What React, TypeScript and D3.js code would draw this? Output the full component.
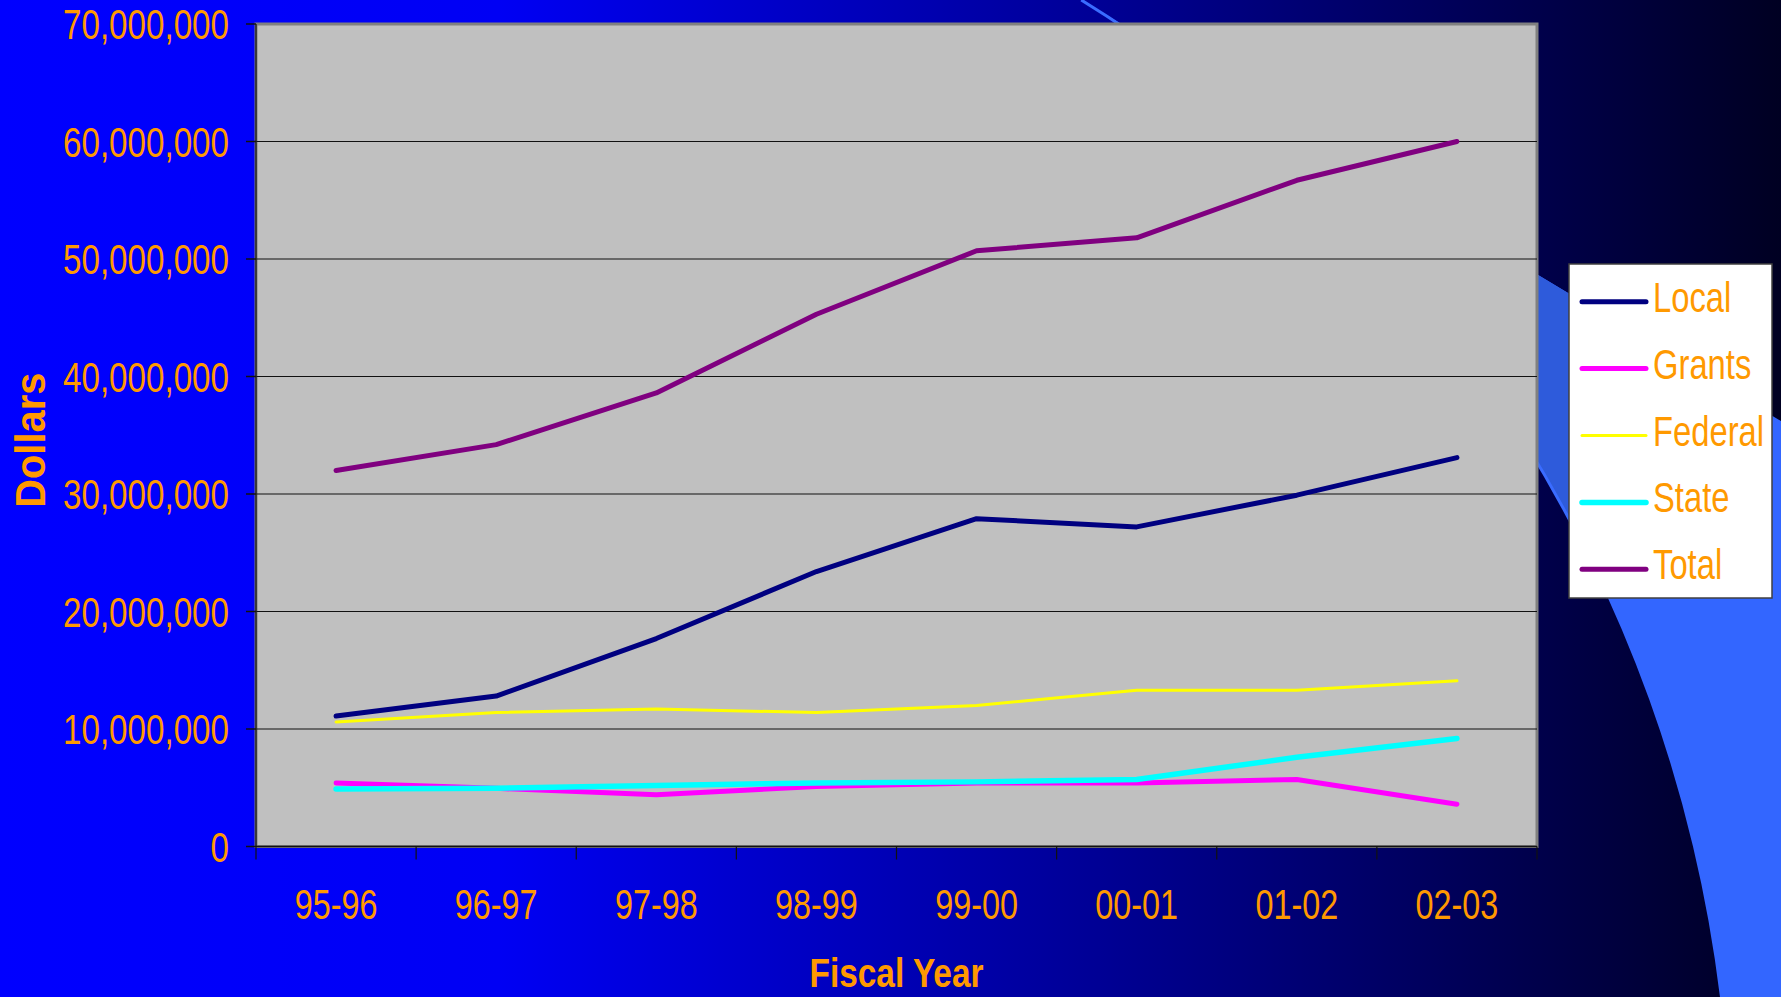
import React from "react";
import * as d3 from "d3";

// Fiscal years on the category axis
const years = ["95-96", "96-97", "97-98", "98-99", "99-00", "00-01", "01-02", "02-03"];

// Revenue by source, in dollars
const local = [11.1e6, 12.8e6, 17.7e6, 23.4e6, 27.9e6, 27.2e6, 29.9e6, 33.1e6];
const grants = [5.4e6, 4.95e6, 4.4e6, 5.1e6, 5.4e6, 5.4e6, 5.7e6, 3.6e6];
const federal = [10.6e6, 11.4e6, 11.7e6, 11.4e6, 12.0e6, 13.3e6, 13.3e6, 14.1e6];
const state = [4.9e6, 4.95e6, 5.2e6, 5.4e6, 5.5e6, 5.7e6, 7.6e6, 9.2e6];
const total = [32.0e6, 34.2e6, 38.6e6, 45.3e6, 50.7e6, 51.8e6, 56.7e6, 60.0e6];

// Value axis ticks
const yTicks = [0, 10e6, 20e6, 30e6, 40e6, 50e6, 60e6, 70e6];

const seriesNames = ["Local", "Grants", "Federal", "State", "Total"];
const seriesValues = [local, grants, federal, state, total];
const seriesColors = ["#000080", "#FF00FF", "#FFFF00", "#00FFFF", "#800080"];
const seriesWidths = [5, 5, 3, 5.5, 5];

const W = 1781;
const H = 997;
const plot = { left: 256, right: 1537, top: 24, bottom: 846.5 };
const ORANGE = "#FF9900";
const FONT = "'Liberation Sans', Arial, Helvetica, sans-serif";

export default function App() {
  const x = d3.scaleBand<string>().domain(years).range([plot.left, plot.right]);
  const cx = (d: string) => (x(d) as number) + x.bandwidth() / 2;
  const y = d3.scaleLinear().domain([0, 70e6]).range([plot.bottom, plot.top]);
  const fmt = d3.format(",");

  const line = d3
    .line<number>()
    .x((_, i) => cx(years[i]))
    .y((v) => y(v));

  // Decorative sweeping shapes on the right of the slide
  const circ = { cx: 365, cy: 1162, r: 1365 };
  const yAt = (yy: number) => circ.cx + Math.sqrt(circ.r * circ.r - (yy - circ.cy) ** 2);
  const xTop = yAt(0);
  const xBot = yAt(H);
  const xEdgeEnd = yAt(598);
  const sweepPath = `M${xTop},0 L${W},421 L${W},${H} L${xBot},${H} A${circ.r},${circ.r} 0 0 0 ${xTop},0 Z`;
  const edgePath = `M${xTop},0 A${circ.r},${circ.r} 0 0 1 ${xEdgeEnd},598`;

  const legend = { x: 1569, y: 264, w: 203, h: 334 };
  const rowY = (i: number) => legend.y + 37.7 + i * 66.9;

  const boundaries = d3.range(years.length + 1).map((i) => plot.left + i * x.bandwidth());

  return (
    <svg
      width={W}
      height={H}
      viewBox={`0 0 ${W} ${H}`}
      style={{ position: "absolute", left: 0, top: 0, display: "block" }}
    >
      <defs>
        <linearGradient id="bg" x1="0" y1="0" x2="1" y2="0">
          <stop offset="0" stopColor="#0000FF" />
          <stop offset="0.28" stopColor="#0000F4" />
          <stop offset="0.62" stopColor="#000094" />
          <stop offset="0.84" stopColor="#000052" />
          <stop offset="1" stopColor="#000022" />
        </linearGradient>
        <clipPath id="bandClip">
          <polygon points="1000,0 1772,0 1772,420 1600,598 1000,598" />
        </clipPath>
      </defs>

      <rect x={0} y={0} width={W} height={H} fill="url(#bg)" />
      <path d={sweepPath} fill="#3366FF" />
      <path d={sweepPath} fill="#2E5BDB" clipPath="url(#bandClip)" />
      <path d={edgePath} fill="none" stroke="#3A6CFF" strokeWidth={3} />

      {/* plot area */}
      <rect
        x={plot.left}
        y={plot.top}
        width={plot.right - plot.left}
        height={plot.bottom - plot.top}
        fill="#C0C0C0"
        stroke="#808080"
        strokeWidth={3}
      />
      {yTicks
        .filter((t) => t > 0 && t < 70e6)
        .map((t) => (
          <line key={t} x1={plot.left} x2={plot.right} y1={y(t)} y2={y(t)} stroke="#111" strokeWidth={1.2} />
        ))}
      <line x1={plot.left} x2={plot.left} y1={plot.top} y2={plot.bottom} stroke="#222" strokeWidth={1.5} />
      <line x1={plot.left} x2={plot.right} y1={plot.bottom} y2={plot.bottom} stroke="#111" strokeWidth={1.5} />
      {yTicks.map((t) => (
        <line key={t} x1={plot.left - 10} x2={plot.left} y1={y(t)} y2={y(t)} stroke="#111" strokeWidth={1.5} />
      ))}
      {boundaries.map((bx, i) => (
        <line key={i} x1={bx} x2={bx} y1={plot.bottom} y2={plot.bottom + 13} stroke="#111" strokeWidth={1.2} />
      ))}

      {/* series */}
      {seriesValues.map((vals, i) => (
        <path
          key={seriesNames[i]}
          d={line(vals) as string}
          fill="none"
          stroke={seriesColors[i]}
          strokeWidth={seriesWidths[i]}
          strokeLinecap="round"
          strokeLinejoin="round"
        />
      ))}

      {/* value axis labels */}
      {yTicks.map((t) => (
        <text
          key={t}
          transform={`translate(229,${y(t) + 15}) scale(0.79,1)`}
          textAnchor="end"
          fontFamily={FONT}
          fontSize={42}
          fill={ORANGE}
        >
          {fmt(t)}
        </text>
      ))}

      {/* category labels */}
      {years.map((yr) => (
        <text
          key={yr}
          transform={`translate(${cx(yr)},919) scale(0.77,1)`}
          textAnchor="middle"
          fontFamily={FONT}
          fontSize={42}
          fill={ORANGE}
        >
          {yr}
        </text>
      ))}

      {/* axis titles */}
      <text
        transform={`translate(${(plot.left + plot.right) / 2},987) scale(0.815,1)`}
        textAnchor="middle"
        fontFamily={FONT}
        fontSize={41}
        fontWeight="bold"
        fill={ORANGE}
      >
        Fiscal Year
      </text>
      <text
        transform={`translate(45,${(plot.top + plot.bottom) / 2 + 5}) rotate(-90) scale(0.95,1)`}
        textAnchor="middle"
        fontFamily={FONT}
        fontSize={42}
        fontWeight="bold"
        fill={ORANGE}
      >
        Dollars
      </text>

      {/* legend */}
      <rect x={legend.x} y={legend.y} width={legend.w} height={legend.h} fill="#FFFFFF" stroke="#404040" strokeWidth={1.5} />
      {seriesNames.map((name, i) => (
        <g key={name}>
          <line
            x1={1582}
            x2={1646}
            y1={rowY(i)}
            y2={rowY(i)}
            stroke={seriesColors[i]}
            strokeWidth={seriesWidths[i]}
            strokeLinecap="round"
          />
          <text
            transform={`translate(1653,${rowY(i) + 10}) scale(0.78,1)`}
            fontFamily={FONT}
            fontSize={42}
            fill={ORANGE}
          >
            {name}
          </text>
        </g>
      ))}
    </svg>
  );
}
